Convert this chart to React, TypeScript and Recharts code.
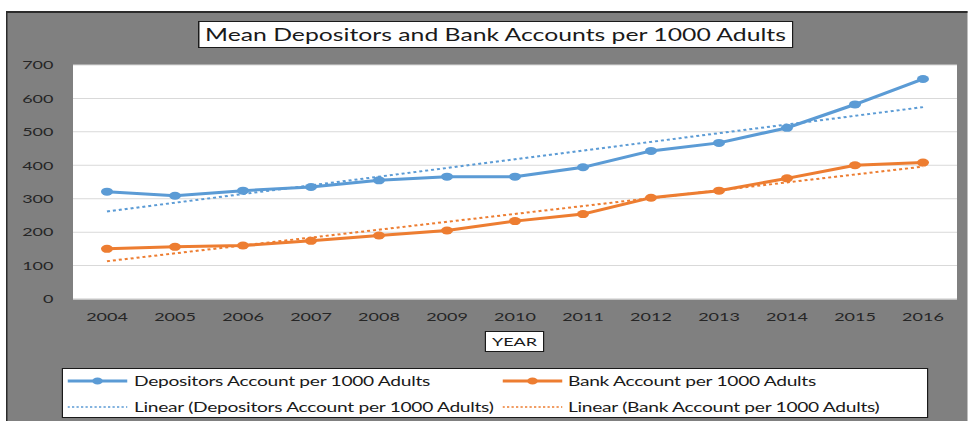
import { LineChart, Line, XAxis, YAxis, CartesianGrid } from 'recharts';

const years = ['2004', '2005', '2006', '2007', '2008', '2009', '2010', '2011', '2012', '2013', '2014', '2015', '2016'];
const depositors = [321, 309, 324, 335, 355, 366, 366, 394, 443, 467, 512, 582, 658];
const bank = [150, 156, 160, 174, 190, 205, 233, 254, 303, 324, 361, 400, 408];
const depositorsTrend = [262, null, null, null, null, null, null, null, null, null, null, null, 574];
const bankTrend = [113, null, null, null, null, null, null, null, null, null, null, null, 396];
const yTicks = [0, 100, 200, 300, 400, 500, 600, 700];

const BLUE = '#5b9bd5';
const ORANGE = '#ed7d31';
const FONT = 'Lato, "Open Sans", sans-serif';
// the source picture is stretched sideways, so everything is drawn narrow and scaled
const SX = 1.5;
const W = 968 / SX;
const HALF_BAND = 34 / SX;

const data = years.map((year, i) => ({
  year,
  depositors: depositors[i],
  bank: bank[i],
  depositorsTrend: depositorsTrend[i],
  bankTrend: bankTrend[i],
}));

function LegendLine({ color, dotted }: { color: string; dotted?: boolean }) {
  return (
    <svg width={40} height={8} style={{ display: 'block' }}>
      <line
        x1={0}
        x2={40}
        y1={4}
        y2={4}
        stroke={color}
        strokeWidth={dotted ? 1.5 : 3}
        strokeDasharray={dotted ? '1.5 1.5' : undefined}
      />
      {!dotted && <circle cx={20} cy={4} r={3.5} fill={color} />}
    </svg>
  );
}

function LegendItem({ left, top, color, dotted, label }: { left: number; top: number; color: string; dotted?: boolean; label: string }) {
  return (
    <div style={{ position: 'absolute', left, top, display: 'flex', alignItems: 'center', height: 16 }}>
      <LegendLine color={color} dotted={dotted} />
      <span style={{ marginLeft: 4, fontSize: 12.8, color: '#1a1a1a', whiteSpace: 'nowrap', letterSpacing: -0.2 }}>{label}</span>
    </div>
  );
}

export default function App() {
  return (
    <div style={{ position: 'absolute', left: 0, top: 0, width: 968, height: 421, overflow: 'hidden', background: '#fff', fontFamily: FONT }}>
      <div style={{ position: 'relative', width: W, height: 421, transform: `scaleX(${SX})`, transformOrigin: '0 0' }}>
        <div
          style={{
            position: 'absolute',
            left: 6 / SX,
            top: 11,
            right: 0,
            bottom: 0,
            background: '#808080',
            borderLeft: '1.5px solid #2b2b2b',
            borderTop: '2px solid #2b2b2b',
          }}
        />
        <LineChart
          width={W}
          height={421}
          data={data}
          margin={{ top: 65, right: W - 957 / SX, bottom: 92, left: 0 }}
          style={{ position: 'absolute', left: 0, top: 0 }}
        >
          <CartesianGrid vertical={false} stroke="#d9d9d9" fill="#ffffff" fillOpacity={1} />
          <XAxis
            dataKey="year"
            height={30}
            padding={{ left: HALF_BAND, right: HALF_BAND }}
            tickLine={false}
            axisLine={{ stroke: '#d9d9d9' }}
            tickSize={0}
            tickMargin={13}
            interval={0}
            tick={{ fill: '#262626', fontSize: 12, fontFamily: FONT }}
          />
          <YAxis
            width={73 / SX}
            domain={[0, 700]}
            ticks={yTicks}
            axisLine={false}
            tickLine={false}
            tickSize={0}
            tickMargin={13}
            tick={{ fill: '#262626', fontSize: 12, fontFamily: FONT }}
          />
          <Line
            dataKey="depositorsTrend"
            stroke={BLUE}
            strokeWidth={2}
            strokeDasharray="2 2"
            dot={false}
            activeDot={false}
            connectNulls
            isAnimationActive={false}
          />
          <Line
            dataKey="bankTrend"
            stroke={ORANGE}
            strokeWidth={2}
            strokeDasharray="2 2"
            dot={false}
            activeDot={false}
            connectNulls
            isAnimationActive={false}
          />
          <Line
            dataKey="depositors"
            stroke={BLUE}
            strokeWidth={3}
            dot={{ r: 4, fill: BLUE, stroke: BLUE, strokeWidth: 0 }}
            activeDot={false}
            isAnimationActive={false}
          />
          <Line
            dataKey="bank"
            stroke={ORANGE}
            strokeWidth={3}
            dot={{ r: 4, fill: ORANGE, stroke: ORANGE, strokeWidth: 0 }}
            activeDot={false}
            isAnimationActive={false}
          />
        </LineChart>

        <div
          style={{
            position: 'absolute',
            left: 198 / SX,
            top: 21,
            width: 595 / SX,
            height: 27,
            boxSizing: 'border-box',
            border: '1px solid #1a1a1a',
            background: '#fff',
            display: 'flex',
            alignItems: 'center',
            justifyContent: 'center',
            fontSize: 16.5,
            color: '#1a1a1a',
            whiteSpace: 'nowrap',
          }}
        >
          Mean Depositors and Bank Accounts per 1000 Adults
        </div>

        <div
          style={{
            position: 'absolute',
            left: 484 / SX,
            top: 331,
            width: 61 / SX,
            height: 21,
            boxSizing: 'border-box',
            border: '1px solid #1a1a1a',
            background: '#fff',
            display: 'flex',
            alignItems: 'center',
            justifyContent: 'center',
            fontSize: 12,
            color: '#1a1a1a',
          }}
        >
          YEAR
        </div>

        <div
          style={{
            position: 'absolute',
            left: 61 / SX,
            top: 368,
            width: 867 / SX,
            height: 50,
            boxSizing: 'border-box',
            border: '1px solid #1a1a1a',
            background: '#fff',
          }}
        />
        <LegendItem left={68 / SX} top={373} color={BLUE} label="Depositors Account per 1000 Adults" />
        <LegendItem left={502 / SX} top={373} color={ORANGE} label="Bank Account per 1000 Adults" />
        <LegendItem left={68 / SX} top={399} color={BLUE} dotted label="Linear (Depositors Account per 1000 Adults)" />
        <LegendItem left={502 / SX} top={399} color={ORANGE} dotted label="Linear (Bank Account per 1000 Adults)" />
      </div>
    </div>
  );
}
